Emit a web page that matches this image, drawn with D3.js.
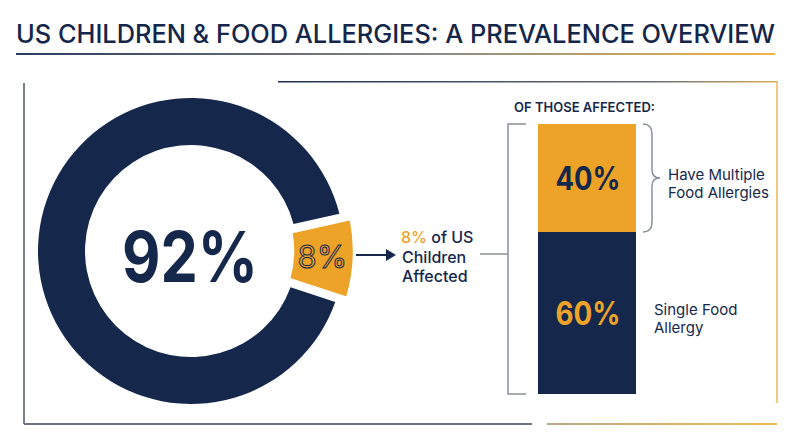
<!DOCTYPE html>
<html>
<head>
<meta charset="utf-8">
<script src="https://cdn.jsdelivr.net/npm/d3@7"></script>
<style>
  body { margin: 0; background: #fff; }
  svg { display: block; font-family: Inter, "Open Sans", sans-serif; }
</style>
</head>
<body>
<div id="chart"></div>
<script>
// data
var title = "US CHILDREN & FOOD ALLERGIES: A PREVALENCE OVERVIEW";
var donutLabels = ["Affected", "Not affected"];
var donutValues = [8, 92];
var splitLabels = [["Have Multiple", "Food Allergies"], ["Single Food", "Allergy"]];
var splitValues = [40, 60];

var width = 800, height = 447;
var navy = "#15284c", orange = "#eca328", grey = "#8a909a";

var svg = d3.select("#chart").append("svg")
    .attr("width", width)
    .attr("height", height);

var defs = svg.append("defs");
function grad(id, stops) {
  var g = defs.append("linearGradient").attr("id", id)
      .attr("x1", "0%").attr("x2", "100%").attr("y1", "0%").attr("y2", "0%");
  stops.forEach(s => g.append("stop").attr("offset", s[0]).attr("stop-color", s[1]));
}
grad("gTitle", [["0%", "#2a3c5e"], ["55%", "#8a8a86"], ["100%", "#f0b548"]]);
grad("gTop", [["0%", "#1e3052"], ["75%", "#6a6e78"], ["100%", "#d9ad5c"]]);
grad("gBottom", [["0%", "#b9a88a"], ["100%", "#f1bc55"]]);

// title
svg.append("text")
    .attr("x", 16).attr("y", 43)
    .attr("textLength", 759).attr("lengthAdjust", "spacingAndGlyphs")
    .style("font-size", "25px").style("font-weight", 500)
    .style("fill", "#14264a")
    .text(title);

svg.append("rect").attr("x", 16).attr("y", 53).attr("width", 759).attr("height", 2)
    .attr("fill", "url(#gTitle)");

// frame
svg.append("line").attr("x1", 24).attr("x2", 24).attr("y1", 83).attr("y2", 424)
    .attr("stroke", "#4a5568").attr("stroke-width", 1.5);
svg.append("rect").attr("x", 24).attr("y", 423).attr("width", 508).attr("height", 2)
    .attr("fill", "#6b7380");
svg.append("rect").attr("x", 547).attr("y", 423).attr("width", 230).attr("height", 2)
    .attr("fill", "url(#gBottom)");
svg.append("rect").attr("x", 278).attr("y", 81).attr("width", 499).attr("height", 1.5)
    .attr("fill", "url(#gTop)");
svg.append("line").attr("x1", 777).attr("x2", 777).attr("y1", 81).attr("y2", 403)
    .attr("stroke", "#eeb955").attr("stroke-width", 1.5);

// donut
var cx = 191, cy = 251;
var span = donutValues[0] / d3.sum(donutValues) * 2 * Math.PI;
var mid = Math.PI / 2 + 0.03;
var pie = d3.pie().sort(null).value(d => d)
    .startAngle(mid - span / 2).endAngle(mid - span / 2 + 2 * Math.PI)
    .padAngle(0.04);
var arcs = pie(donutValues);

var g = svg.append("g").attr("transform", `translate(${cx},${cy})`);
var navyArc = d3.arc().innerRadius(106).outerRadius(153);
var sliceArc = d3.arc().innerRadius(102).outerRadius(163);

g.append("path").attr("d", navyArc(arcs[1])).attr("fill", navy);
g.append("path").attr("d", sliceArc(arcs[0])).attr("fill", orange)
    .attr("stroke", "#fff").attr("stroke-width", 2.5);

g.append("text")
    .attr("x", -1).attr("y", 31)
    .attr("text-anchor", "middle")
    .attr("textLength", 136).attr("lengthAdjust", "spacingAndGlyphs")
    .style("font-size", "70px").style("font-weight", 700)
    .style("fill", navy)
    .text(donutValues[1] + "%");

var sc = sliceArc.centroid(arcs[0]);
g.append("text")
    .attr("x", sc[0] - 1).attr("y", sc[1] + 11)
    .attr("text-anchor", "middle")
    .style("font-size", "31px").style("font-weight", 400)
    .style("fill", orange).style("stroke", navy).style("stroke-width", 1)
    .text(donutValues[0] + "%");

// arrow
var ay = 255;
svg.append("line").attr("x1", 356).attr("x2", 388).attr("y1", ay).attr("y2", ay)
    .attr("stroke", navy).attr("stroke-width", 2);
svg.append("path").attr("d", `M386,${ay - 6}L396,${ay}L386,${ay + 6}Z`).attr("fill", navy);

var aff = svg.append("text").attr("x", 401).attr("y", 243)
    .style("font-size", "16px").style("font-weight", 500).style("fill", navy);
aff.append("tspan").style("fill", orange).text(donutValues[0] + "%");
aff.append("tspan").text(" of US");
svg.append("text").attr("x", 402).attr("y", 263)
    .style("font-size", "16px").style("font-weight", 500).style("fill", navy).text("Children");
svg.append("text").attr("x", 402).attr("y", 282)
    .style("font-size", "16px").style("font-weight", 500).style("fill", navy).text("Affected");

// stacked bar
var y = d3.scaleLinear().domain([0, d3.sum(splitValues)]).range([124, 394]);
var bx = 538, bw = 98;
var stacks = [];
var acc = 0;
splitValues.forEach((v, i) => { stacks.push({ i: i, v: v, y0: acc, y1: acc + v }); acc += v; });

svg.append("text").attr("x", 514).attr("y", 112)
    .style("font-size", "13px").style("font-weight", 600).style("fill", navy)
    .text("OF THOSE AFFECTED:");

svg.selectAll("rect.seg").data(stacks).enter().append("rect")
    .attr("class", "seg")
    .attr("x", bx).attr("width", bw)
    .attr("y", d => y(d.y0))
    .attr("height", d => y(d.y1) - y(d.y0))
    .attr("fill", d => d.i === 0 ? orange : navy);

svg.selectAll("text.seg").data(stacks).enter().append("text")
    .attr("class", "seg")
    .attr("x", bx + bw / 2 + 1)
    .attr("y", d => (y(d.y0) + y(d.y1)) / 2 + 12)
    .attr("text-anchor", "middle")
    .attr("textLength", 65).attr("lengthAdjust", "spacingAndGlyphs")
    .style("font-size", "32px").style("font-weight", 700)
    .style("fill", d => d.i === 0 ? navy : orange)
    .text(d => d.v + "%");

// left bracket + connector
var bt = y(0), bb = y(d3.sum(splitValues));
svg.append("path")
    .attr("d", `M526,${bt}H508V${bb}H526`)
    .attr("fill", "none").attr("stroke", grey).attr("stroke-width", 1.5);
svg.append("line").attr("x1", 480).attr("x2", 508).attr("y1", 254).attr("y2", 254)
    .attr("stroke", grey).attr("stroke-width", 1.5);

// curly brace for first segment
var t0 = y(stacks[0].y0), t1 = y(stacks[0].y1), tm = (t0 + t1) / 2;
var x0 = 643, x1 = 652, xt = 660;
svg.append("path")
    .attr("d", `M${x0},${t0}Q${x1},${t0} ${x1},${t0 + 10}V${tm - 8}Q${x1},${tm} ${xt},${tm}` +
               `Q${x1},${tm} ${x1},${tm + 8}V${t1 - 10}Q${x1},${t1} ${x0},${t1}`)
    .attr("fill", "none").attr("stroke", grey).attr("stroke-width", 1.5);

// side labels, one text per line
var labX = [668, 654];
stacks.forEach(d => {
  var m = (y(d.y0) + y(d.y1)) / 2;
  splitLabels[d.i].forEach((line, k) => {
    svg.append("text")
        .attr("x", labX[d.i]).attr("y", m + 2 + k * 18)
        .style("font-size", "15px").style("font-weight", 400).style("fill", navy)
        .text(line);
  });
});
</script>
</body>
</html>
